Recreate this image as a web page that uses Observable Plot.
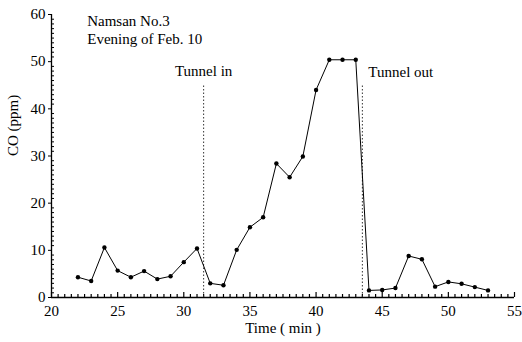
<!DOCTYPE html>
<html><head><meta charset="utf-8">
<script src="https://cdn.jsdelivr.net/npm/d3@7"></script>
<script src="https://cdn.jsdelivr.net/npm/@observablehq/plot@0.6"></script>
<style>body{margin:0;background:#fff;} svg{font-family:"Liberation Serif","DejaVu Serif",serif;}</style>
</head><body><div id="chart"></div>
<script>
const time = [22,23,24,25,26,27,28,29,30,31,32,33,34,35,36,37,38,39,40,41,42,43,44,45,46,47,48,49,50,51,52,53];
const co   = [4.3,3.5,10.6,5.7,4.3,5.6,3.9,4.5,7.5,10.4,3.0,2.6,10.1,14.9,17.0,28.4,25.5,29.9,44.0,50.4,50.4,50.4,1.5,1.6,2.0,8.8,8.1,2.3,3.3,2.9,2.2,1.5];
const xTicks = [20,25,30,35,40,45,50,55];
const yTicks = [0,10,20,30,40,50,60];
const tunnelIn = 31.5, tunnelOut = 43.5;
const notes = ["Namsan No.3", "Evening of Feb. 10"];

const data = time.map((t,i)=>({t, v: co[i]}));
const xMinor = d3.range(20, 55.01, 0.5).filter(v => v % 5 !== 0);
const yMinor = d3.range(0, 60.01, 1).filter(v => v % 10 !== 0);
const blank = () => "";

const chart = Plot.plot({
  width: 522, height: 342,
  marginLeft: 51, marginRight: 8, marginTop: 14, marginBottom: 45,
  style: {fontFamily: "Liberation Serif, serif", fontSize: "14px", color: "#000", background: "#fff"},
  x: {domain: [20,55]},
  y: {domain: [0,60]},
  marks: [
    Plot.axisX({ticks: xMinor, tickSize: -3, tickFormat: blank, label: null, strokeWidth: 1.2}),
    Plot.axisX({ticks: xTicks, tickSize: -5, tickPadding: 13, tickFormat: d => d, label: null, fontSize: 15, strokeWidth: 1.2}),
    Plot.axisY({ticks: yMinor, tickSize: -3, tickFormat: blank, label: null}),
    Plot.axisY({ticks: yTicks, tickSize: 3, tickPadding: 3, tickFormat: d => d, label: null, fontSize: 15}),
    Plot.ruleY([0], {stroke: "#000", strokeWidth: 1.3}),
    Plot.ruleX([20], {stroke: "#000", strokeWidth: 1.3}),
    Plot.ruleX([tunnelIn, tunnelOut], {y1: 0, y2: 45, stroke: "#333", strokeDasharray: "1.5,2"}),
    Plot.text(["Tunnel in"], {x: tunnelIn, y: 48, text: d => d, textAnchor: "middle", fontSize: 15}),
    Plot.text(["Tunnel out"], {x: tunnelOut, y: 47.8, text: d => d, textAnchor: "start", dx: 6, fontSize: 15}),
    Plot.text([notes.join("\n")], {x: 22.7, y: 60, text: d => d, textAnchor: "start", lineAnchor: "top", lineHeight: 1.2, fontSize: 15, dy: -1}),
    Plot.line(data, {x: "t", y: "v", stroke: "#000", strokeWidth: 1}),
    Plot.dot(data, {x: "t", y: "v", r: 2.2, fill: "#000"}),
    Plot.text(["Time ( min )"], {frameAnchor: "bottom", dy: 35, text: d => d, fontSize: 15}),
    Plot.text(["CO (ppm)"], {frameAnchor: "left", dx: -38, rotate: -90, text: d => d, fontSize: 15})
  ]
});
document.getElementById("chart").append(chart);
</script></body></html>
